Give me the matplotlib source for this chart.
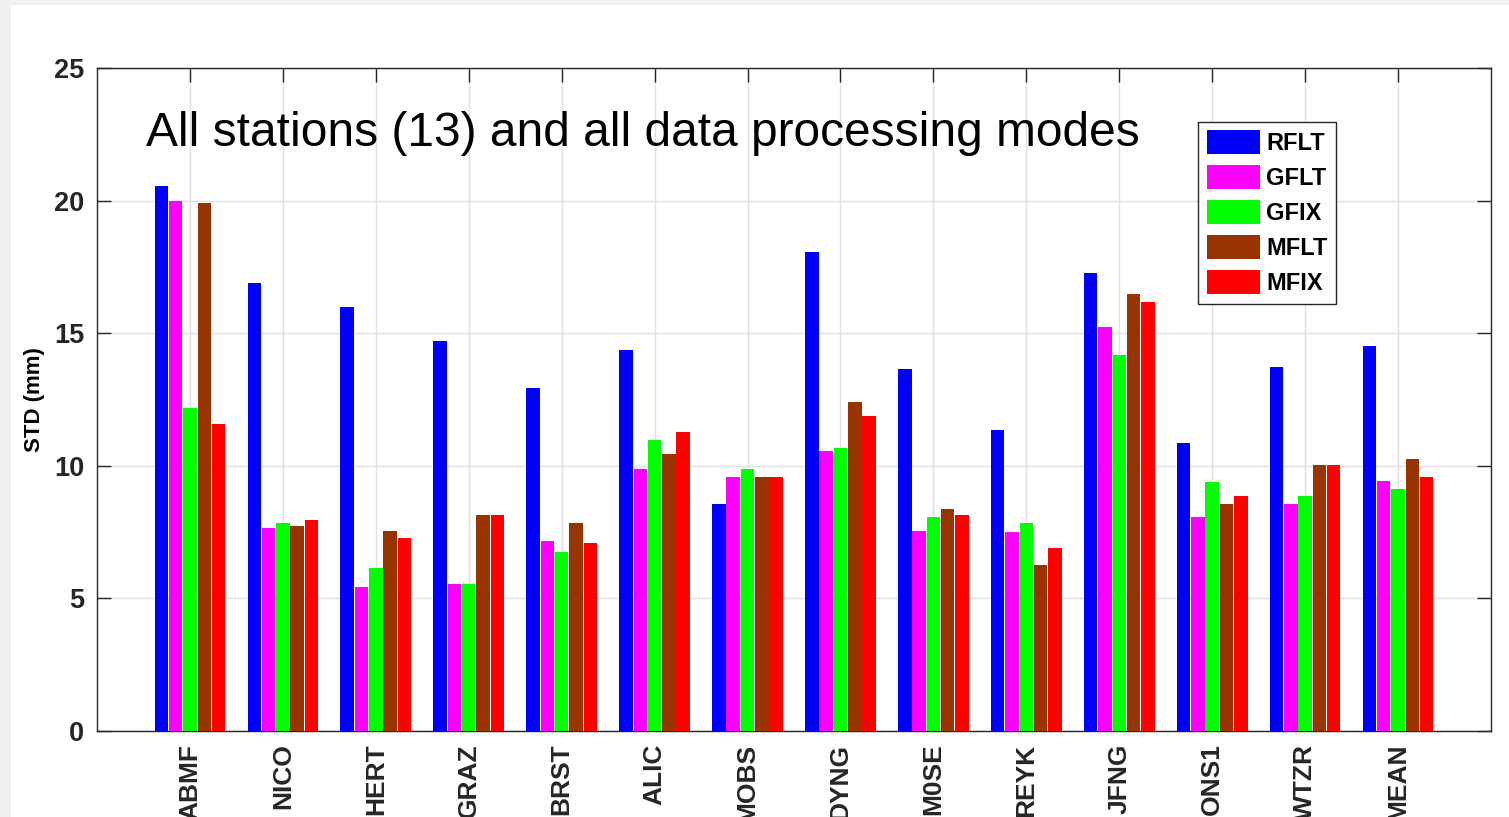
import numpy as np
import matplotlib.pyplot as plt
from matplotlib.patches import Rectangle

stations = ["ABMF", "NICO", "HERT", "GRAZ", "BRST", "ALIC", "MOBS",
            "DYNG", "M0SE", "REYK", "JFNG", "ONS1", "WTZR", "MEAN"]
modes = ["RFLT", "GFLT", "GFIX", "MFLT", "MFIX"]

rflt = [20.55, 16.9, 15.99, 14.7, 12.93, 14.37, 8.55, 18.06, 13.65, 11.36, 17.27, 10.86, 13.73, 14.52]
gflt = [20.0, 7.64, 5.44, 5.54, 7.16, 9.89, 9.58, 10.56, 7.54, 7.49, 15.23, 8.06, 8.56, 9.43]
gfix = [12.18, 7.84, 6.16, 5.54, 6.76, 10.96, 9.88, 10.66, 8.06, 7.84, 14.18, 9.38, 8.86, 9.13]
mflt = [19.9, 7.74, 7.53, 8.16, 7.84, 10.46, 9.58, 12.39, 8.36, 6.26, 16.48, 8.56, 10.03, 10.24]
mfix = [11.58, 7.94, 7.29, 8.16, 7.08, 11.26, 9.58, 11.89, 8.16, 6.89, 16.18, 8.86, 10.03, 9.58]

colors = ["#0000ff", "#ff00ff", "#00ff00", "#993300", "#ff0000"]

plt.rcParams["font.family"] = ["Liberation Sans", "DejaVu Sans"]

fig = plt.figure(figsize=(15.09, 8.17), dpi=100, facecolor="#f0f0f0")
fig.patches.append(Rectangle((11 / 1509, 0), 1, (817 - 5) / 817, transform=fig.transFigure,
                             facecolor="white", edgecolor="none", zorder=-10))
ax = fig.add_axes([97 / 1509, (817 - 731) / 817, (1491 - 97) / 1509, (731 - 68) / 817])

x = np.arange(1, len(stations) + 1)
step = 0.154
series = [rflt, gflt, gfix, mflt, mfix]
for i, (vals, c, lab) in enumerate(zip(series, colors, modes)):
    ax.bar(x + (i - 2) * step, vals, width=0.145, color=c, label=lab, zorder=3)

ax.set_xlim(0, 15)
ax.set_ylim(0, 25)
ax.set_xticks(x)
ax.set_xticklabels(stations, rotation=90, fontsize=19, fontweight="bold")
ax.set_yticks([0, 5, 10, 15, 20, 25])
ax.set_yticklabels(["0", "5", "10", "15", "20", "25"], fontsize=19.5, fontweight="bold")
ax.tick_params(direction="in", top=True, right=True, length=10, width=1, colors="#262626", pad=9)
ax.tick_params(axis="x", pad=9)
ax.grid(True, color="#e0e0e0", linewidth=1, zorder=0)
ax.set_axisbelow(True)
for s in ax.spines.values():
    s.set_color("#262626")
    s.set_linewidth(1)

ax.set_ylabel("STD (mm)", fontsize=16, fontweight="bold")
ax.yaxis.set_label_coords(-0.037, 0.5)

ax.text(146, 817 - 133, "All stations (13) and all data processing modes", fontsize=34.5,
        transform=None, va="center", ha="left")

leg = ax.legend(loc="upper left", bbox_to_anchor=(0.79, 0.9186), borderaxespad=0,
                fancybox=False, edgecolor="#262626", framealpha=1,
                prop={"size": 17, "weight": "bold"}, handlelength=2.25, handleheight=1.2,
                labelspacing=0.42, handletextpad=0.27, borderpad=0.35)
leg.get_frame().set_linewidth(1)

fig.savefig("out.png", dpi=100, facecolor=fig.get_facecolor())
